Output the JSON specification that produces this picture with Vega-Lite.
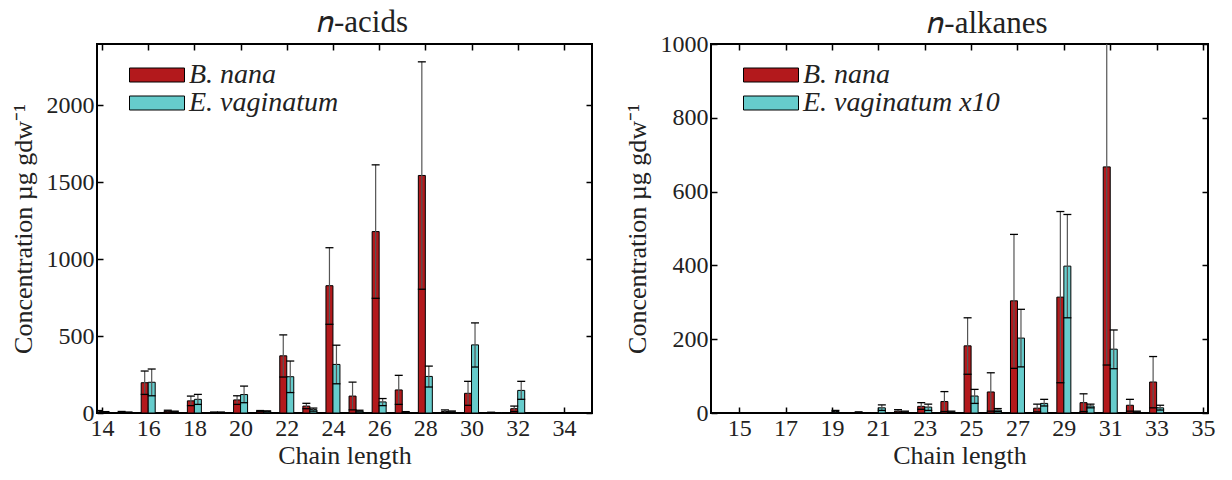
{
  "$schema": "https://vega.github.io/schema/vega-lite/v6.json",
  "padding": {"left": 9, "top": 6, "right": 5, "bottom": 2},
  "background": "white",
  "config": {
    "font": "Liberation Serif",
    "view": {"stroke": "black", "strokeWidth": 2},
    "axis": {
      "labelFont": "Liberation Serif", "titleFont": "Liberation Serif",
      "labelFontSize": 24, "titleFontSize": 26, "titleFontWeight": "normal",
      "labelColor": "#222", "titleColor": "#222", "tickColor": "black",
      "tickWidth": 1.5, "tickSize": -6, "domain": false, "grid": false,
      "labelFlush": false, "labelOverlap": false, "format": "d"
    },
    "title": {"font": "Liberation Serif", "fontSize": 31, "fontWeight": "normal", "color": "#222"},
    "legend": {"labelFont": "Liberation Serif", "labelFontSize": 28, "labelFontStyle": "italic", "labelColor": "#222", "labelLimit": 400}
  },
  "datasets": {
    "acids": [
      {"chain": 14, "sp": "B. nana", "v": 10, "lo": 4, "hi": 16},
      {"chain": 15, "sp": "B. nana", "v": 6, "lo": 2, "hi": 10},
      {"chain": 16, "sp": "B. nana", "v": 197, "lo": 121, "hi": 273},
      {"chain": 17, "sp": "B. nana", "v": 12, "lo": 6, "hi": 18},
      {"chain": 18, "sp": "B. nana", "v": 79, "lo": 48, "hi": 110},
      {"chain": 19, "sp": "B. nana", "v": 4, "lo": 2, "hi": 6},
      {"chain": 20, "sp": "B. nana", "v": 85, "lo": 56, "hi": 112},
      {"chain": 21, "sp": "B. nana", "v": 12, "lo": 8, "hi": 16},
      {"chain": 22, "sp": "B. nana", "v": 372, "lo": 234, "hi": 508},
      {"chain": 23, "sp": "B. nana", "v": 45, "lo": 28, "hi": 63},
      {"chain": 24, "sp": "B. nana", "v": 828, "lo": 577, "hi": 1075},
      {"chain": 25, "sp": "B. nana", "v": 110, "lo": 20, "hi": 201},
      {"chain": 26, "sp": "B. nana", "v": 1180, "lo": 746, "hi": 1614},
      {"chain": 27, "sp": "B. nana", "v": 150, "lo": 56, "hi": 245},
      {"chain": 28, "sp": "B. nana", "v": 1545, "lo": 805, "hi": 2284},
      {"chain": 29, "sp": "B. nana", "v": 10, "lo": 2, "hi": 20},
      {"chain": 30, "sp": "B. nana", "v": 128, "lo": 50, "hi": 206},
      {"chain": 31, "sp": "B. nana", "v": 3, "lo": 1, "hi": 5},
      {"chain": 32, "sp": "B. nana", "v": 28, "lo": 10, "hi": 45},
      {"chain": 33, "sp": "B. nana", "v": 2},
      {"chain": 14, "sp": "E. vaginatum", "v": 6, "lo": 3, "hi": 9},
      {"chain": 15, "sp": "E. vaginatum", "v": 4, "lo": 2, "hi": 6},
      {"chain": 16, "sp": "E. vaginatum", "v": 200, "lo": 112, "hi": 286},
      {"chain": 17, "sp": "E. vaginatum", "v": 8, "lo": 4, "hi": 12},
      {"chain": 18, "sp": "E. vaginatum", "v": 89, "lo": 56, "hi": 121},
      {"chain": 19, "sp": "E. vaginatum", "v": 4, "lo": 2, "hi": 6},
      {"chain": 20, "sp": "E. vaginatum", "v": 120, "lo": 67, "hi": 175},
      {"chain": 21, "sp": "E. vaginatum", "v": 10, "lo": 6, "hi": 14},
      {"chain": 22, "sp": "E. vaginatum", "v": 236, "lo": 133, "hi": 338},
      {"chain": 23, "sp": "E. vaginatum", "v": 22, "lo": 12, "hi": 32},
      {"chain": 24, "sp": "E. vaginatum", "v": 316, "lo": 190, "hi": 441},
      {"chain": 25, "sp": "E. vaginatum", "v": 12, "lo": 6, "hi": 18},
      {"chain": 26, "sp": "E. vaginatum", "v": 72, "lo": 48, "hi": 94},
      {"chain": 27, "sp": "E. vaginatum", "v": 6, "lo": 3, "hi": 9},
      {"chain": 28, "sp": "E. vaginatum", "v": 238, "lo": 169, "hi": 305},
      {"chain": 29, "sp": "E. vaginatum", "v": 8, "lo": 3, "hi": 13},
      {"chain": 30, "sp": "E. vaginatum", "v": 443, "lo": 299, "hi": 586},
      {"chain": 31, "sp": "E. vaginatum", "v": 3},
      {"chain": 32, "sp": "E. vaginatum", "v": 147, "lo": 89, "hi": 206},
      {"chain": 33, "sp": "E. vaginatum", "v": 1}
    ],
    "alkanes": [
      {"chain": 15, "sp": "B. nana", "v": 1},
      {"chain": 17, "sp": "B. nana", "v": 1},
      {"chain": 18, "sp": "B. nana", "v": 1},
      {"chain": 19, "sp": "B. nana", "v": 1},
      {"chain": 20, "sp": "B. nana", "v": 1},
      {"chain": 21, "sp": "B. nana", "v": 1},
      {"chain": 22, "sp": "B. nana", "v": 5, "lo": 2, "hi": 9},
      {"chain": 23, "sp": "B. nana", "v": 18, "lo": 10, "hi": 28},
      {"chain": 24, "sp": "B. nana", "v": 31, "lo": 4, "hi": 58},
      {"chain": 25, "sp": "B. nana", "v": 182, "lo": 105, "hi": 258},
      {"chain": 26, "sp": "B. nana", "v": 57, "lo": 5, "hi": 109},
      {"chain": 27, "sp": "B. nana", "v": 304, "lo": 121, "hi": 484},
      {"chain": 28, "sp": "B. nana", "v": 13, "lo": 3, "hi": 24},
      {"chain": 29, "sp": "B. nana", "v": 314, "lo": 82, "hi": 546},
      {"chain": 30, "sp": "B. nana", "v": 28, "lo": 4, "hi": 52},
      {"chain": 31, "sp": "B. nana", "v": 667, "lo": 130, "hi": 1204},
      {"chain": 32, "sp": "B. nana", "v": 21, "lo": 5, "hi": 37},
      {"chain": 33, "sp": "B. nana", "v": 84, "lo": 14, "hi": 153},
      {"chain": 34, "sp": "B. nana", "v": 1},
      {"chain": 19, "sp": "E. vaginatum x10", "v": 4, "lo": 2, "hi": 7},
      {"chain": 20, "sp": "E. vaginatum x10", "v": 2, "lo": 1, "hi": 3},
      {"chain": 21, "sp": "E. vaginatum x10", "v": 14, "lo": 7, "hi": 22},
      {"chain": 22, "sp": "E. vaginatum x10", "v": 3, "lo": 1, "hi": 5},
      {"chain": 23, "sp": "E. vaginatum x10", "v": 16, "lo": 7, "hi": 24},
      {"chain": 24, "sp": "E. vaginatum x10", "v": 3, "lo": 1, "hi": 5},
      {"chain": 25, "sp": "E. vaginatum x10", "v": 46, "lo": 26, "hi": 64},
      {"chain": 26, "sp": "E. vaginatum x10", "v": 8, "lo": 4, "hi": 12},
      {"chain": 27, "sp": "E. vaginatum x10", "v": 203, "lo": 125, "hi": 281},
      {"chain": 28, "sp": "E. vaginatum x10", "v": 26, "lo": 19, "hi": 37},
      {"chain": 29, "sp": "E. vaginatum x10", "v": 398, "lo": 258, "hi": 538},
      {"chain": 30, "sp": "E. vaginatum x10", "v": 19, "lo": 14, "hi": 24},
      {"chain": 31, "sp": "E. vaginatum x10", "v": 173, "lo": 120, "hi": 225},
      {"chain": 32, "sp": "E. vaginatum x10", "v": 3, "lo": 1, "hi": 5},
      {"chain": 33, "sp": "E. vaginatum x10", "v": 14, "lo": 8, "hi": 21}
    ]
  },
  "spacing": 29,
  "resolve": {"scale": {"color": "independent"}, "legend": {"color": "independent"}},
  "hconcat": [
    {
      "width": 495, "height": 369,
      "data": {"name": "acids"},
      "title": {"text": "𝑛-acids", "dx": 18, "offset": 4},
      "resolve": {"axis": {"x": "independent", "y": "independent"}},
      "layer": [
        {
          "transform": [{"filter": "datum.sp == 'B. nana'"}],
          "mark": {"type": "bar", "width": 7, "xOffset": -3.5, "stroke": "black", "strokeWidth": 1, "clip": true, "opacity": 1},
          "encoding": {
            "x": {"field": "chain", "type": "quantitative", "scale": {"domain": [14, 35], "nice": false, "zero": false},
                  "axis": {"orient": "bottom", "values": [14,16,18,20,22,24,26,28,30,32,34], "title": "Chain length", "labelPadding": 9, "titlePadding": 2}},
            "y": {"field": "v", "type": "quantitative", "scale": {"domain": [0, 2400], "nice": false},
                  "axis": {"orient": "left", "values": [0,500,1000,1500,2000], "title": "Concentration µg gdw⁻¹", "labelPadding": 9, "titlePadding": 10}},
            "color": {"field": "sp", "type": "nominal",
                      "scale": {"domain": ["B. nana", "E. vaginatum"], "range": ["#B3191C", "#66CCCC"]},
                      "legend": {"title": null, "orient": "none", "legendX": 46, "legendY": 17,
                                 "symbolType": "M-2.75,-0.7H2.75V0.7H-2.75Z", "symbolSize": 400,
                                 "symbolStrokeColor": "black", "symbolStrokeWidth": 1, "labelOffset": 18, "rowPadding": 0}}
          }
        },
        {
          "transform": [{"filter": "datum.sp != 'B. nana'"}],
          "mark": {"type": "bar", "width": 7, "xOffset": 3.5, "stroke": "black", "strokeWidth": 1, "clip": true, "opacity": 1},
          "encoding": {
            "x": {"field": "chain", "type": "quantitative", "axis": null},
            "y": {"field": "v", "type": "quantitative", "axis": null},
            "color": {"field": "sp", "type": "nominal"}
          }
        },
        {
          "transform": [{"filter": "datum.sp == 'B. nana' && isValid(datum.lo)"}],
          "mark": {"type": "rule", "xOffset": -3.5, "stroke": "#555", "strokeWidth": 1.2, "clip": true},
          "encoding": {
            "x": {"field": "chain", "type": "quantitative",
                  "axis": {"orient": "top", "values": [14,16,18,20,22,24,26,28,30,32,34], "labels": false, "title": null}},
            "y": {"field": "lo", "type": "quantitative",
                  "axis": {"orient": "right", "values": [0,500,1000,1500,2000], "labels": false, "title": null}},
            "y2": {"field": "hi"}
          }
        },
        {
          "transform": [{"filter": "datum.sp != 'B. nana' && isValid(datum.lo)"}],
          "mark": {"type": "rule", "xOffset": 3.5, "stroke": "#555", "strokeWidth": 1.2, "clip": true},
          "encoding": {
            "x": {"field": "chain", "type": "quantitative", "axis": null},
            "y": {"field": "lo", "type": "quantitative", "axis": null},
            "y2": {"field": "hi"}
          }
        },
        {
          "transform": [{"filter": "datum.sp == 'B. nana' && isValid(datum.lo)"}, {"fold": ["lo", "hi"], "as": ["k", "ev"]}],
          "mark": {"type": "tick", "orient": "horizontal", "xOffset": -3.5, "color": "black", "size": 8, "thickness": 1.3, "clip": true, "opacity": 1},
          "encoding": {
            "x": {"field": "chain", "type": "quantitative", "axis": null},
            "y": {"field": "ev", "type": "quantitative", "axis": null}
          }
        },
        {
          "transform": [{"filter": "datum.sp != 'B. nana' && isValid(datum.lo)"}, {"fold": ["lo", "hi"], "as": ["k", "ev"]}],
          "mark": {"type": "tick", "orient": "horizontal", "xOffset": 3.5, "color": "black", "size": 8, "thickness": 1.3, "clip": true, "opacity": 1},
          "encoding": {
            "x": {"field": "chain", "type": "quantitative", "axis": null},
            "y": {"field": "ev", "type": "quantitative", "axis": null}
          }
        }
      ]
    },
    {
      "width": 497, "height": 369,
      "data": {"name": "alkanes"},
      "title": {"text": "𝑛-alkanes", "dx": 28, "offset": -8},
      "resolve": {"axis": {"x": "independent", "y": "independent"}},
      "layer": [
        {
          "transform": [{"filter": "datum.sp == 'B. nana'"}],
          "mark": {"type": "bar", "width": 7, "xOffset": -3.5, "stroke": "black", "strokeWidth": 1, "clip": true, "opacity": 1},
          "encoding": {
            "x": {"field": "chain", "type": "quantitative", "scale": {"domain": [14, 35], "nice": false, "zero": false},
                  "axis": {"orient": "bottom", "values": [15,17,19,21,23,25,27,29,31,33,35], "title": "Chain length", "labelPadding": 9, "titlePadding": 2}},
            "y": {"field": "v", "type": "quantitative", "scale": {"domain": [0, 1000], "nice": false},
                  "axis": {"orient": "left", "values": [0,200,400,600,800,1000], "title": "Concentration µg gdw⁻¹", "labelPadding": 9, "titlePadding": 10}},
            "color": {"field": "sp", "type": "nominal",
                      "scale": {"domain": ["B. nana", "E. vaginatum x10"], "range": ["#B3191C", "#66CCCC"]},
                      "legend": {"title": null, "orient": "none", "legendX": 46, "legendY": 17,
                                 "symbolType": "M-2.75,-0.7H2.75V0.7H-2.75Z", "symbolSize": 400,
                                 "symbolStrokeColor": "black", "symbolStrokeWidth": 1, "labelOffset": 18, "rowPadding": 0}}
          }
        },
        {
          "transform": [{"filter": "datum.sp != 'B. nana'"}],
          "mark": {"type": "bar", "width": 7, "xOffset": 3.5, "stroke": "black", "strokeWidth": 1, "clip": true, "opacity": 1},
          "encoding": {
            "x": {"field": "chain", "type": "quantitative", "axis": null},
            "y": {"field": "v", "type": "quantitative", "axis": null},
            "color": {"field": "sp", "type": "nominal"}
          }
        },
        {
          "transform": [{"filter": "datum.sp == 'B. nana' && isValid(datum.lo)"}],
          "mark": {"type": "rule", "xOffset": -3.5, "stroke": "#555", "strokeWidth": 1.2, "clip": true},
          "encoding": {
            "x": {"field": "chain", "type": "quantitative",
                  "axis": {"orient": "top", "values": [15,17,19,21,23,25,27,29,31,33,35], "labels": false, "title": null}},
            "y": {"field": "lo", "type": "quantitative",
                  "axis": {"orient": "right", "values": [0,200,400,600,800,1000], "labels": false, "title": null}},
            "y2": {"field": "hi"}
          }
        },
        {
          "transform": [{"filter": "datum.sp != 'B. nana' && isValid(datum.lo)"}],
          "mark": {"type": "rule", "xOffset": 3.5, "stroke": "#555", "strokeWidth": 1.2, "clip": true},
          "encoding": {
            "x": {"field": "chain", "type": "quantitative", "axis": null},
            "y": {"field": "lo", "type": "quantitative", "axis": null},
            "y2": {"field": "hi"}
          }
        },
        {
          "transform": [{"filter": "datum.sp == 'B. nana' && isValid(datum.lo)"}, {"fold": ["lo", "hi"], "as": ["k", "ev"]}],
          "mark": {"type": "tick", "orient": "horizontal", "xOffset": -3.5, "color": "black", "size": 8, "thickness": 1.3, "clip": true, "opacity": 1},
          "encoding": {
            "x": {"field": "chain", "type": "quantitative", "axis": null},
            "y": {"field": "ev", "type": "quantitative", "axis": null}
          }
        },
        {
          "transform": [{"filter": "datum.sp != 'B. nana' && isValid(datum.lo)"}, {"fold": ["lo", "hi"], "as": ["k", "ev"]}],
          "mark": {"type": "tick", "orient": "horizontal", "xOffset": 3.5, "color": "black", "size": 8, "thickness": 1.3, "clip": true, "opacity": 1},
          "encoding": {
            "x": {"field": "chain", "type": "quantitative", "axis": null},
            "y": {"field": "ev", "type": "quantitative", "axis": null}
          }
        }
      ]
    }
  ]
}
